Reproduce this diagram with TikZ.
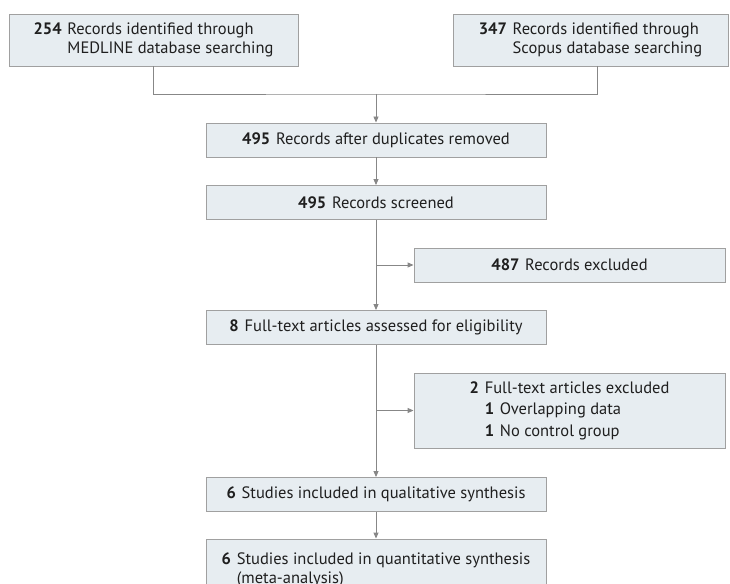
\documentclass[tikz,border=0pt]{standalone}
\usepackage{fontspec}
\setmainfont{PT Sans}
\usetikzlibrary{arrows.meta}
\definecolor{boxfill}{HTML}{E7EDF1}
\definecolor{boxline}{HTML}{A0A0A0}
\definecolor{arrowline}{HTML}{878787}
\newcommand{\cnt}[1]{\textbf{#1}\hspace{0.35em}}

\begin{document}
\begin{tikzpicture}[x=1pt, y=-1pt,
    flowbox/.style={draw=boxline, fill=boxfill, line width=0.9pt, text=black!88,
        font=\fontsize{16.5}{19.5}\selectfont, align=left, inner sep=0pt,
        minimum width=340pt, minimum height=34pt},
    flowline/.style={draw=arrowline, line width=0.9pt},
    flowarrow/.style={flowline, -{Triangle[length=6pt, width=5pt]}}]
    \clip (0,0) rectangle (730,583);

    \node[flowbox, minimum width=289pt, minimum height=52pt] (medline) at (153.5,40)
        {\cnt{254}Records identified through\\\phantom{\cnt{254}}MEDLINE database searching};
    \node[flowbox, minimum width=275pt, minimum height=52pt] (scopus) at (590.5,40)
        {\cnt{347}Records identified through\\\phantom{\cnt{347}}Scopus database searching};
    \node[flowbox] (dedup) at (376,140) {\cnt{495}Records after duplicates removed};
    \node[flowbox] (screened) at (376,202.5) {\cnt{495}Records screened};
    \node[flowbox, minimum width=311pt] (excl1) at (569.5,265) {\cnt{487}Records excluded};
    \node[flowbox] (fulltext) at (376,327.5) {\cnt{8}Full-text articles assessed for eligibility};
    \node[flowbox, minimum width=311pt, minimum height=75pt,
        font=\fontsize{16.5}{21.5}\selectfont] (excl2) at (569.5,410.5)
        {\cnt{2}Full-text articles excluded\\
         \phantom{\cnt{2}}\cnt{1}Overlapping data\\
         \phantom{\cnt{2}}\cnt{1}No control group};
    \node[flowbox] (qual) at (376,494.5) {\cnt{6}Studies included in qualitative synthesis};
    \node[flowbox, minimum height=62pt] (quant) at (376,570)
        {\cnt{6}Studies included in quantitative synthesis\\\phantom{\cnt{6}}(meta-analysis)};

    \coordinate (join) at (376,94);
    \draw[flowline] (medline.south) |- (join) -| ([xshift=6.5pt]scopus.south);
    \draw[flowarrow] (join) -- (dedup);
    \draw[flowarrow] (dedup) -- (screened);
    \draw[flowarrow] (screened) -- (fulltext);
    \coordinate (split1) at (screened.south |- excl1.west);
    \draw[flowarrow] (split1) -- (excl1);
    \draw[flowarrow] (fulltext) -- (qual);
    \coordinate (split2) at (fulltext.south |- excl2.west);
    \draw[flowarrow] (split2) -- (excl2);
    \draw[flowarrow] (qual) -- (quant);
\end{tikzpicture}
\end{document}
